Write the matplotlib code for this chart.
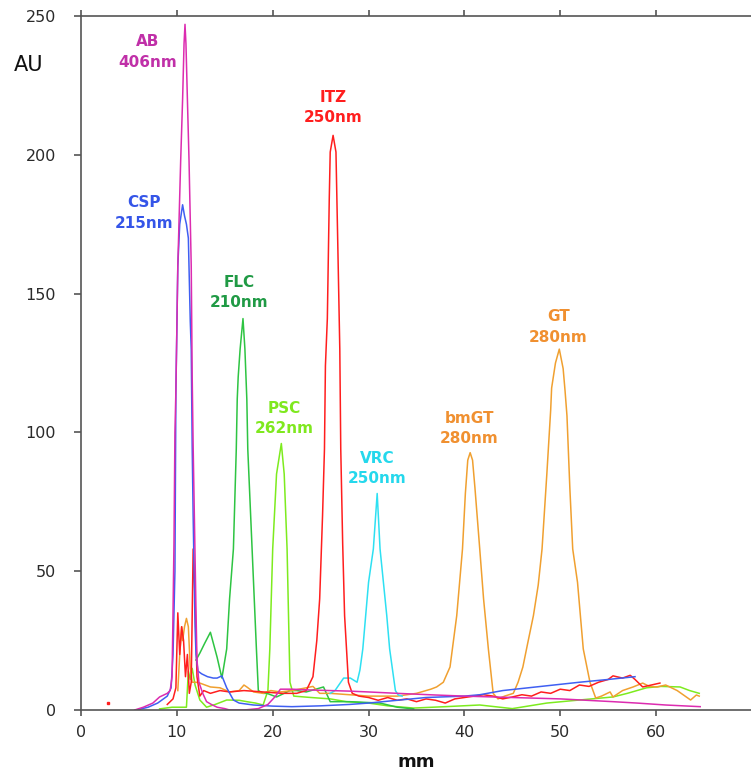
import matplotlib
matplotlib.use("Agg")
import matplotlib.pyplot as plt
import numpy as np

# ---- data (mm, AU) ----
ab_x = [5.6, 6.5, 7.5, 8.2, 9.0, 9.3, 9.5, 9.6, 9.7, 9.8, 9.9, 10.1, 10.4, 10.6, 10.75, 10.85,
        10.95, 11.1, 11.27, 11.5, 11.6, 11.7, 11.9, 12.0, 12.1, 12.3, 12.7, 13.1, 13.6, 14.2, 15.0,
        15.5, 17.0, 18.5, 19.5, 20.3, 20.8, 22.0, 24.0, 26.0, 28.0, 30.0, 33.0, 37.0, 40.0, 45.0,
        50.0, 55.5, 58.0, 61.0, 64.6]
ab_y = [0, 1, 2.5, 4.7, 6, 7, 12, 35, 60, 100, 115, 160, 198, 220, 240, 247,
        240, 220, 198, 160, 120, 95, 55, 35, 18, 10, 6, 3, 2, 1, 0.5,
        0, 0, 0.5, 2, 5, 7.5, 7.5, 7.2, 7, 6.8, 6.5, 6, 5.4, 5, 4.5,
        4, 3, 2.5, 1.8, 1.2]

csp_x = [5.8, 7.0, 8.0, 9.0, 9.4, 9.6, 9.8, 9.9, 10.0, 10.1, 10.3, 10.6, 10.8, 11.0, 11.2, 11.4,
         11.5, 11.6, 11.7, 11.8, 11.9, 12.0, 12.2, 12.6, 13.2, 13.8, 14.2, 14.7, 15.2, 15.9, 16.5,
         18.0, 20.0, 22.0, 25.0, 28.0, 30.0, 33.0, 36.0, 40.0, 41.6, 44.0, 48.0, 52.0, 55.0, 57.8]
csp_y = [0, 1, 2.5, 5, 8, 20, 50, 115, 137, 160, 175, 182, 178, 175, 170, 140,
         130, 95, 70, 50, 30, 20, 14, 13, 12, 11.5, 11.5, 12.3, 8, 3.6, 2.5,
         1.8, 1.4, 1.2, 1.5, 2, 2.5, 3.5, 4.5, 5, 5.5, 7, 8.5, 10, 11, 12]

flc_x = [12.0, 12.4, 12.9, 13.5, 14.2, 14.7, 15.2, 15.5, 15.9, 16.2, 16.3, 16.4, 16.6, 16.9,
         17.1, 17.3, 17.4, 17.7, 18.0, 18.3, 18.5, 19.0, 19.4, 20.4, 21.8, 22.5, 23.5, 24.5,
         25.3, 26.0, 28.0, 31.2, 33.0, 34.7]
flc_y = [18, 20.5, 24, 28, 19, 11.5, 22, 40, 58, 94, 112, 120, 130, 141,
         130, 112, 94, 70, 46, 22, 7, 6, 6, 4.7, 7, 7, 6.5, 7.5,
         8.3, 3, 3, 2.5, 1, 0.4]

psc_x = [8.2, 9.5, 10.5, 11.0, 11.2, 11.4, 11.6, 11.9, 12.4, 13.1, 14.0, 15.2, 16.5, 17.3,
         18.2, 19.0, 19.5, 19.7, 20.0, 20.4, 20.9, 21.2, 21.5, 21.8, 22.2, 24.0, 26.0, 27.7,
         30.0, 32.0, 34.7, 38.0, 41.6, 45.0, 48.6, 52.0, 55.5, 57.0, 59.0, 60.5, 62.5, 63.5, 64.5]
psc_y = [0.4, 1, 1, 1, 14, 11, 15, 9, 3.6, 1, 2, 3.6, 3.5, 3,
         2.5, 1.8, 7, 22, 58, 85, 96, 85, 58, 10, 5, 4.5, 4, 3,
         2.5, 1.5, 0.7, 1.2, 1.8, 0.5, 2.5, 3.6, 4.7, 6, 8, 8.5, 8.3, 7, 6]

itz_x = [9.0, 9.6, 9.9, 10.1, 10.3, 10.5, 10.7, 10.9, 11.1, 11.3, 11.5, 11.7, 11.9, 12.1, 12.4,
         12.8, 13.5, 14.5, 15.5, 17.0, 19.0, 21.0, 22.5, 23.5, 24.2, 24.6, 24.9, 25.2, 25.4, 25.5,
         25.7, 25.9, 26.0, 26.3, 26.6, 26.8, 27.0, 27.1, 27.3, 27.5, 27.9, 28.3, 29.0, 30.0, 31.0,
         32.0, 33.0, 34.0, 35.0, 36.0, 37.0, 38.0, 39.0, 40.0, 41.0, 42.0, 43.0, 44.0, 45.0,
         46.0, 47.0, 48.0, 49.0, 50.0, 51.0, 52.0, 53.0, 54.0, 55.0, 55.5, 56.5, 57.3, 57.8,
         58.6, 59.5, 60.4]
itz_y = [2, 4, 8, 35, 20, 30, 25, 12, 20, 6, 10, 58, 40, 12, 5,
         7, 6, 7, 6.5, 7, 6.5, 6, 6, 7, 12, 25, 40, 70, 94, 124,
         141, 184, 201, 207, 201, 166, 130, 94, 60, 34, 10, 6, 5, 4.5, 3.5,
         4.5, 3.5, 4, 3, 4, 3.5, 2.5, 4, 4.5, 5, 5.5, 5, 4, 4.7,
         5.5, 5, 6.5, 6, 7.5, 7, 9, 8.5, 10, 11, 12.3, 11.5, 12.5, 11,
         8.3, 9, 9.7]
itz_dot_x = [2.8]
itz_dot_y = [2.5]

vrc_x = [26.0, 26.5, 27.4, 28.1, 28.8, 29.1, 29.4, 30.0, 30.5, 30.9, 31.2, 31.9, 32.2, 32.8,
         33.1, 33.5]
vrc_y = [6, 7, 11.5, 11.5, 10, 14.4, 22, 46, 58, 78, 58, 34, 22, 7, 5.4, 5]

gt_x = [10.1, 10.3, 10.5, 10.6, 10.8, 11.0, 11.2, 11.4, 11.6, 12.0, 12.4, 13.5, 14.5, 15.5,
        16.5, 17.0, 17.3, 18.0, 19.0, 19.8, 20.8, 22.0, 23.5, 24.2, 24.9, 26.0, 28.0, 30.0,
        33.0, 35.0, 36.5, 37.1, 37.8, 38.5, 39.2, 39.8, 40.1, 40.35, 40.6, 40.85, 41.1, 41.6,
        42.0, 42.5, 43.0, 43.5, 44.2, 45.1, 45.6, 46.1, 46.6, 47.2, 47.7, 48.1, 48.6, 49.0,
        49.1, 49.5, 49.9, 50.3, 50.5, 50.7, 51.0, 51.3, 51.8, 52.4, 53.1, 53.7, 54.3, 54.9,
        55.2, 55.5, 56.5, 57.6, 58.6, 59.3, 60.1, 61.0, 62.2, 63.6, 64.2, 64.5]
gt_y = [7, 20, 30, 25, 30, 33, 30, 15, 10, 10, 9.7, 8.3, 8, 6.5,
        7, 9, 8.3, 6.5, 6, 7, 6.5, 7, 8, 8.5, 6, 6, 5.5, 5,
        5, 6, 7.5, 8.3, 10, 15.5, 34, 58, 78, 90, 92.7, 90, 80, 58,
        40, 22, 6, 4, 5, 6, 10, 15.5, 24, 34, 45, 58, 85, 108,
        116, 125, 130, 123, 115, 106, 80, 58, 46, 22, 10, 4.3, 5, 6,
        6.5, 4.7, 7, 8.3, 9.7, 8.5, 8.3, 9, 7, 3.6, 5.4, 5]

x_ticks = [0, 10, 20, 30, 40, 50, 60]
y_ticks = [0, 50, 100, 150, 200, 250]

labels = [("AB", "406nm", 7.0, 237), ("CSP", "215nm", 6.6, 179), ("FLC", "210nm", 16.5, 150.5),
          ("ITZ", "250nm", 26.3, 217), ("PSC", "262nm", 21.2, 105), ("VRC", "250nm", 30.9, 87),
          ("bmGT", "280nm", 40.5, 101.5), ("GT", "280nm", 49.8, 138)]

# ---- style ----
c_mag = "#DC2CB0"
c_blue = "#3F5FF2"
c_green = "#2EC442"
c_lime = "#7DEB1E"
c_red = "#FF1E1E"
c_cyan = "#2EE0F2"
c_orange = "#F0A030"
label_colors = ["#C030A8", "#3555E8", "#209A45", "#FF1E1E", "#7FE81E", "#25D8EC", "#F09030", "#F09030"]

fig = plt.figure(figsize=(7.51, 7.74), dpi=100)
ax = fig.add_axes([81/751, 64/774, 670/751, 694/774])

lw = 1.1
ax.plot(psc_x, psc_y, color=c_lime, lw=lw)
ax.plot(flc_x, flc_y, color=c_green, lw=lw)
ax.plot(gt_x, gt_y, color=c_orange, lw=lw)
ax.plot(vrc_x, vrc_y, color=c_cyan, lw=lw)
ax.plot(itz_x, itz_y, color=c_red, lw=lw)
ax.plot(itz_dot_x, itz_dot_y, 's', color=c_red, ms=1.5)
ax.plot(csp_x, csp_y, color=c_blue, lw=lw)
ax.plot(ab_x, ab_y, color=c_mag, lw=lw)

for (name, wl, lx, ly), col in zip(labels, label_colors):
    ax.text(lx, ly, name + "\n" + wl, color=col, fontsize=11, fontweight="bold",
            ha="center", va="center", linespacing=1.45)

ax.set_xlim(0, 69.9)
ax.set_ylim(0, 250)
ax.set_xticks(x_ticks)
ax.set_yticks(y_ticks)
ax.set_xticklabels([str(v) for v in x_ticks])
ax.set_yticklabels([str(v) for v in y_ticks])

spine_col = "#555555"
for s in ["left", "bottom", "top"]:
    ax.spines[s].set_color(spine_col)
    ax.spines[s].set_linewidth(1.2)
ax.spines["right"].set_visible(False)

ax.tick_params(axis="y", direction="out", length=5, width=1.2, color=spine_col,
               labelsize=11.5, labelcolor="#2a2a2a", pad=13)
ax.tick_params(axis="x", direction="out", length=4.5, width=1.2, color=spine_col,
               labelsize=11.5, labelcolor="#2a2a2a", pad=6, top=True)

fig.text(29/751, 1 - 65/774, "AU", fontsize=15, color="#111111", ha="center", va="center")
fig.text(416/751, 1 - 762/774, "mm", fontsize=13, fontweight="bold", color="#111111",
         ha="center", va="center")

fig.savefig("out.png", dpi=100)
